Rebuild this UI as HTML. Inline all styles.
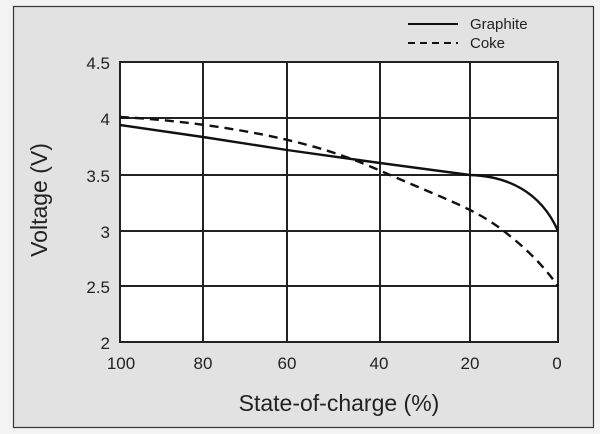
<!DOCTYPE html>
<html><head><style>
html,body{margin:0;padding:0;background:#f3f3f3;}
svg{display:block;font-family:"Liberation Sans",Arial,sans-serif;}
</style></head><body>
<svg width="600" height="434" viewBox="0 0 600 434">
<rect x="0" y="0" width="600" height="434" fill="#f3f3f3"/>
<rect x="13.5" y="6.5" width="580" height="421" fill="#e2e2e2" stroke="#333" stroke-width="1.2"/>
<rect x="120" y="62" width="438" height="280" fill="#fff"/>
<g stroke="#222" stroke-width="2" fill="none">
<line x1="120" y1="118" x2="558" y2="118"/>
<line x1="120" y1="175" x2="558" y2="175"/>
<line x1="120" y1="231" x2="558" y2="231"/>
<line x1="120" y1="286" x2="558" y2="286"/>
<line x1="203" y1="62" x2="203" y2="342"/>
<line x1="287" y1="62" x2="287" y2="342"/>
<line x1="380" y1="62" x2="380" y2="342"/>
<line x1="470" y1="62" x2="470" y2="342"/>
<rect x="120" y="62" width="438" height="280"/>
</g>
<path d="M120,125 L203,137 L287,150 L380,163 L470,175 C505,176 540,190 558,231" stroke="#111" stroke-width="2.4" fill="none"/>
<path d="M120,117 C180,120 250,130 300,143 C340,153 370,166 390,175 C420,188 450,200 470,210 C490,220 500,228 510,236 C530,252 545,268 558,286" stroke="#111" stroke-width="2.4" fill="none" stroke-dasharray="9,6"/>
<line x1="408" y1="24" x2="458" y2="24" stroke="#111" stroke-width="2"/>
<line x1="408" y1="43" x2="458" y2="43" stroke="#111" stroke-width="2" stroke-dasharray="7,5"/>
<g font-size="15" fill="#222">
<text x="470" y="29">Graphite</text>
<text x="470" y="48">Coke</text>
</g>
<g font-size="17" fill="#222" text-anchor="end">
<text x="110" y="69">4.5</text>
<text x="110" y="125">4</text>
<text x="110" y="182">3.5</text>
<text x="110" y="238">3</text>
<text x="110" y="293">2.5</text>
<text x="110" y="349">2</text>
</g>
<g font-size="17" fill="#222" text-anchor="middle">
<text x="121" y="369">100</text>
<text x="203" y="369">80</text>
<text x="287" y="369">60</text>
<text x="379" y="369">40</text>
<text x="470" y="369">20</text>
<text x="557" y="369">0</text>
</g>
<text x="339" y="411" font-size="23" fill="#222" text-anchor="middle">State-of-charge (%)</text>
<text transform="translate(47,200) rotate(-90)" font-size="23" fill="#222" text-anchor="middle">Voltage (V)</text>
</svg>
</body></html>
